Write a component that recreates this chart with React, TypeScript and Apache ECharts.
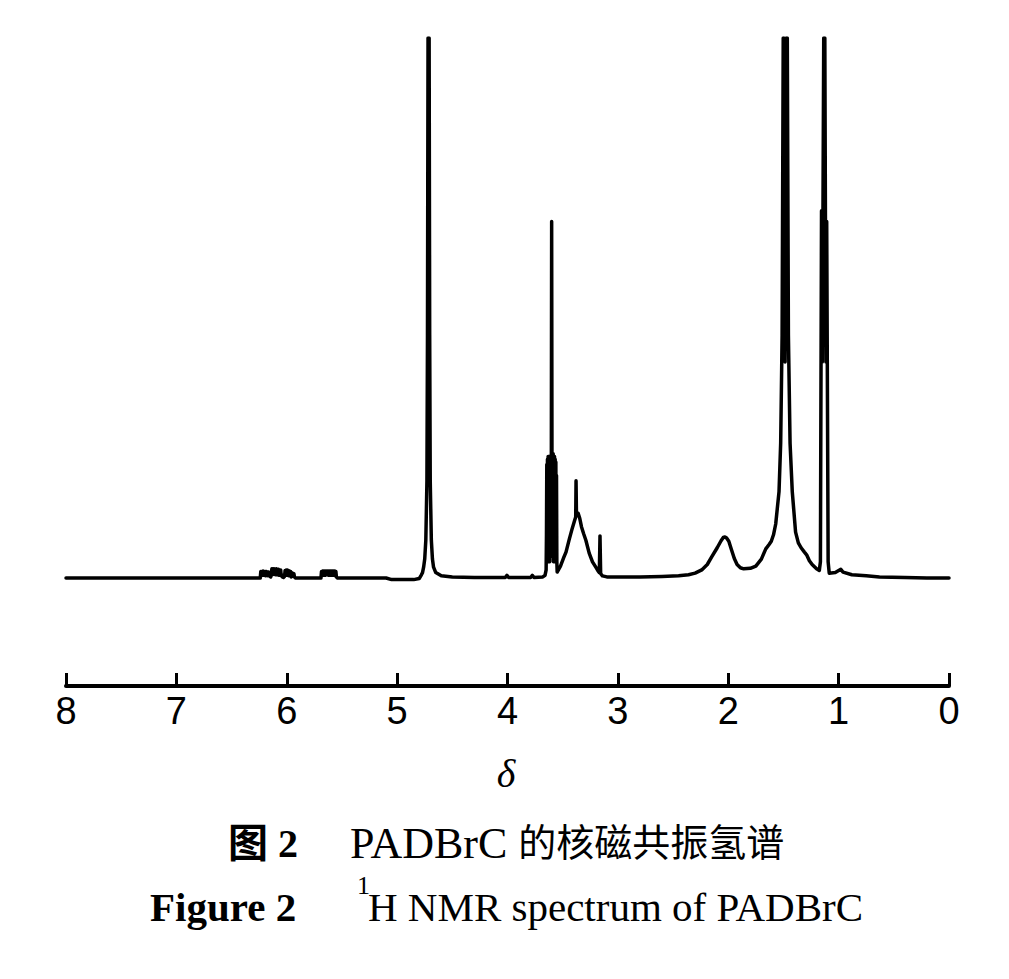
import { useEffect, useRef } from "react";
import * as echarts from "echarts";

// chemical shift (ppm) vs relative intensity (0 = baseline, 100 = top of plot, clipped)
const lowField: [number, number][] = [
  [8.0, 0], [7.5, 0], [7.0, 0], [6.5, 0], [6.26, 0],
];
const vinylMultipletA: [number, number][] = [
  [6.24, 0], [6.235, 1.2], [6.23, 0.4], [6.225, 1.2], [6.22, 0.5], [6.215, 1.3], [6.21, 0.5], [6.205, 1.2],
  [6.2, 0.5], [6.195, 1.2], [6.19, 0.4], [6.185, 1.2], [6.18, 0.5], [6.175, 1.1], [6.17, 0.4], [6.165, 1.1],
  [6.16, 0.4], [6.155, 1.0], [6.15, 0.3], [6.145, 0.2], [6.14, 0.6], [6.135, 1.7], [6.13, 0.6], [6.125, 1.7],
  [6.12, 0.7], [6.115, 1.7], [6.11, 0.7], [6.105, 1.6], [6.1, 0.6], [6.095, 1.7], [6.09, 0.6], [6.085, 1.6],
  [6.08, 0.6], [6.075, 1.6], [6.07, 0.5], [6.065, 1.5], [6.06, 0.5], [6.055, 1.5], [6.05, 0.4], [6.045, 0.6],
  [6.04, 0.2], [6.03, 0.1], [6.02, 0.3], [6.015, 1.4], [6.01, 0.5], [6.005, 1.5], [6.0, 0.5], [5.995, 1.5],
  [5.99, 0.5], [5.985, 1.4], [5.98, 0.4], [5.975, 1.3], [5.97, 0.4], [5.965, 1.2], [5.96, 0.2], [5.955, 0.8],
  [5.95, 0.3], [5.945, 0.9], [5.94, 0.3], [5.935, 0.8], [5.93, 0.2], [5.92, 0],
];
const vinylMultipletB: [number, number][] = [
  [5.8, 0], [5.69, 0], [5.685, 1.2], [5.68, 0.5], [5.675, 1.3], [5.67, 0.5], [5.665, 1.3], [5.66, 0.5],
  [5.655, 1.3], [5.65, 0.5], [5.645, 1.3], [5.64, 0.6], [5.635, 1.3], [5.63, 0.6], [5.625, 1.3], [5.62, 0.5],
  [5.615, 1.3], [5.61, 0.5], [5.605, 1.3], [5.6, 0.5], [5.595, 1.3], [5.59, 0.5], [5.585, 1.3], [5.58, 0.5],
  [5.575, 1.3], [5.57, 0.5], [5.565, 1.3], [5.56, 0.4], [5.555, 1.2], [5.55, 0.2], [5.54, 0],
];
const waterPeak: [number, number][] = [
  [5.3, 0], [5.1, 0], [5.05, -0.3], [4.85, -0.3], [4.8, -0.1],
  [4.78, 0.6], [4.77, 1.0], [4.76, 2.0], [4.75, 3.5], [4.74, 7], [4.73, 18], [4.725, 45], [4.72, 100], [4.71, 100],
  [4.705, 45], [4.7, 18], [4.69, 7], [4.68, 3.5], [4.67, 2], [4.65, 1], [4.6, 0.4], [4.5, 0.2],
];
const midField: [number, number][] = [
  [4.3, 0.1], [4.1, 0.1], [4.02, 0.1], [4.005, 0.5], [3.99, 0.1], [3.85, 0.1], [3.79, 0.1], [3.775, 0.5],
  [3.76, 0.1], [3.68, 0.2], [3.66, 0.5], [3.65, 1.5],
];
const nCH2Multiplet: [number, number][] = [
  [3.647, 8], [3.644, 21], [3.641, 3], [3.638, 22], [3.635, 3], [3.632, 22.5], [3.629, 3], [3.626, 22.5],
  [3.623, 3], [3.62, 22.5], [3.617, 3], [3.614, 22.5], [3.611, 4], [3.608, 22.5], [3.604, 5], [3.6, 66],
  [3.596, 5], [3.592, 23], [3.589, 4], [3.586, 23], [3.583, 3], [3.58, 22.5], [3.577, 3], [3.574, 22.5],
  [3.571, 3], [3.568, 22], [3.565, 3], [3.562, 21.5], [3.559, 3], [3.556, 19], [3.553, 3], [3.55, 1.1],
];
const broadHump33: [number, number][] = [
  [3.52, 2.2], [3.49, 3.8], [3.47, 4.8], [3.44, 7.2], [3.416, 9], [3.39, 10.8], [3.382, 11.3], [3.379, 18],
  [3.375, 11.5], [3.36, 12], [3.345, 11], [3.33, 9.5], [3.31, 8.2], [3.29, 7.0], [3.26, 4.6], [3.23, 3],
  [3.2, 2], [3.18, 1.3], [3.168, 1.0], [3.162, 7.8], [3.156, 0.8], [3.14, 0.4], [3.1, 0.2],
];
const highField: [number, number][] = [
  [3.0, 0.2], [2.8, 0.2], [2.6, 0.3], [2.45, 0.4], [2.36, 0.6], [2.3, 0.9], [2.24, 1.5], [2.19, 2.5],
  [2.15, 3.9], [2.1, 5.6], [2.065, 6.9], [2.045, 7.5], [2.03, 7.6], [2.015, 7.4], [1.995, 6.8], [1.97, 5.2],
  [1.945, 3.6], [1.92, 2.5], [1.89, 1.9], [1.86, 1.7], [1.8, 1.8], [1.75, 2.2], [1.7, 3.5], [1.66, 5.4],
  [1.63, 6.2], [1.61, 6.8], [1.59, 8], [1.57, 10], [1.54, 16], [1.525, 25], [1.512, 45], [1.502, 100],
  [1.495, 100], [1.485, 40], [1.475, 100], [1.465, 100], [1.455, 45], [1.44, 25], [1.42, 16], [1.39, 8.5],
  [1.365, 6.5], [1.34, 5.6], [1.31, 4.8], [1.29, 4.3], [1.265, 3.2], [1.24, 2.5], [1.2, 1.7], [1.175, 1.4],
  [1.165, 3], [1.155, 68], [1.148, 40], [1.135, 100], [1.125, 100], [1.115, 40], [1.108, 66], [1.095, 3],
  [1.085, 0.9], [1.03, 1.0], [0.98, 1.6], [0.96, 1.1], [0.88, 0.6], [0.75, 0.4], [0.63, 0.2], [0.4, 0.1],
  [0.2, 0], [0.0, 0],
];

const xMin = 0;
const xMax = 8;
const xInterval = 1;

const serif = '"Liberation Serif", "Times New Roman", "Noto Sans CJK SC"';

export default function App() {
  const ref = useRef<HTMLDivElement>(null);
  useEffect(() => {
    const chart = echarts.init(ref.current!, null, { renderer: "svg" });
    const data = [
      ...lowField, ...vinylMultipletA, ...vinylMultipletB, ...waterPeak, ...midField,
      ...nCH2Multiplet, ...broadHump33, ...highField,
    ];
    chart.setOption({
      animation: false,
      backgroundColor: "#ffffff",
      grid: { left: 66, right: 60, top: 38, bottom: 293, containLabel: false },
      xAxis: {
        type: "value",
        min: xMin,
        max: xMax,
        interval: xInterval,
        inverse: true,
        axisLine: { onZero: false, lineStyle: { color: "#000", width: 4 } },
        axisTick: { inside: true, length: 13, lineStyle: { color: "#000", width: 3 } },
        axisLabel: {
          margin: 6,
          fontSize: 38,
          fontFamily: '"Liberation Sans", Arial, sans-serif',
          color: "#000",
        },
        splitLine: { show: false },
      },
      yAxis: {
        type: "value",
        min: -20,
        max: 100,
        show: false,
        splitLine: { show: false },
      },
      series: [
        {
          type: "line",
          data,
          showSymbol: false,
          clip: true,
          lineStyle: { color: "#000", width: 3.5, join: "round", cap: "round" },
        },
      ],
      graphic: [
        {
          type: "text",
          x: 506,
          y: 773,
          style: {
            text: "δ",
            font: `italic 40px ${serif}`,
            fill: "#000",
            textAlign: "center",
            textVerticalAlign: "middle",
          },
        },
        {
          type: "text",
          x: 228,
          y: 843,
          style: {
            text: "图 2",
            font: `bold 40px ${serif}`,
            fill: "#000",
            textAlign: "left",
            textVerticalAlign: "middle",
          },
        },
        {
          type: "text",
          x: 350,
          y: 843,
          style: {
            text: "{lat|PADBrC }{cjk|的核磁共振氢谱}",
            fill: "#000",
            textAlign: "left",
            textVerticalAlign: "middle",
            rich: {
              lat: { font: `44px ${serif}`, fill: "#000" },
              cjk: { font: `38px ${serif}`, fill: "#000" },
            },
          },
        },
        {
          type: "text",
          x: 150,
          y: 907,
          style: {
            text: "Figure 2",
            font: `bold 41px ${serif}`,
            fill: "#000",
            textAlign: "left",
            textVerticalAlign: "middle",
          },
        },
        {
          type: "text",
          x: 357,
          y: 885,
          style: {
            text: "1",
            font: `26px ${serif}`,
            fill: "#000",
            textAlign: "left",
            textVerticalAlign: "middle",
          },
        },
        {
          type: "text",
          x: 368,
          y: 907,
          style: {
            text: "H NMR spectrum of PADBrC",
            font: `41px ${serif}`,
            fill: "#000",
            textAlign: "left",
            textVerticalAlign: "middle",
          },
        },
      ],
    });
    return () => chart.dispose();
  }, []);
  return (
    <div
      ref={ref}
      style={{ position: "absolute", left: 0, top: 0, width: 1009, height: 979, background: "#fff" }}
    />
  );
}
